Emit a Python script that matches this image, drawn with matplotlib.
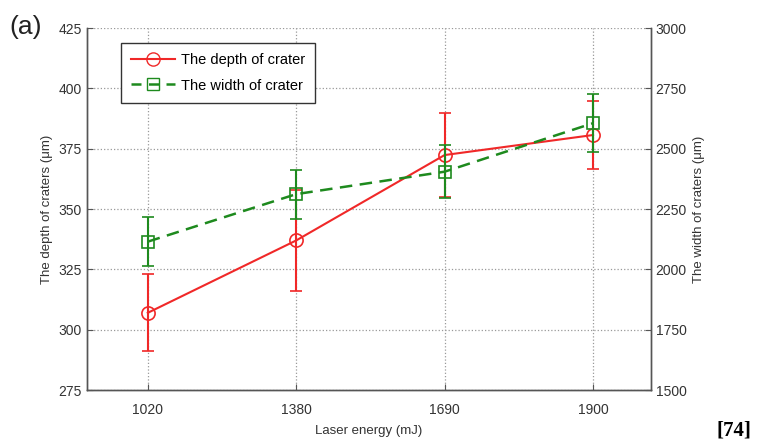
import numpy as np
import matplotlib.pyplot as plt
from matplotlib.lines import Line2D

plt.rcParams['font.family'] = ['Liberation Sans Narrow', 'Liberation Sans', 'DejaVu Sans']

energy = ['1020', '1380', '1690', '1900']
depth = [307, 337, 372.4, 380.7]
depth_err = [16, 21, 17.5, 14.2]
width = [2115, 2312, 2405, 2606]
width_err = [103, 102, 110, 120]

RED = '#f02828'
GREEN = '#1e8a1e'


def main():
    fig = plt.figure(figsize=(7.73, 4.47), dpi=100)
    ax = fig.add_axes([0.1125, 0.1275, 0.7295, 0.8095])
    ax2 = ax.twinx()

    x = np.arange(1, len(energy) + 1)

    ax.errorbar(x, depth, yerr=depth_err, color=RED, marker='o',
                markersize=9.5, markerfacecolor='none', markeredgewidth=1.2,
                linewidth=1.5, capsize=4, elinewidth=1.5, capthick=1.5,
                zorder=3)
    ax2.errorbar(x, width, yerr=width_err, color=GREEN, marker='s',
                 markersize=9, markerfacecolor='none', markeredgewidth=1.2,
                 linewidth=1.8, linestyle='--', dashes=(5, 3), capsize=4,
                 elinewidth=1.5, capthick=1.5, zorder=3)

    ax.set_xlim(0.59, 4.39)
    ax.set_ylim(275, 425)
    ax2.set_ylim(1500, 3000)
    ax.set_xticks(x)
    ax.set_xticklabels(energy)
    ax.set_yticks(np.arange(275, 426, 25))
    ax2.set_yticks(np.arange(1500, 3001, 250))

    ax.grid(True, linestyle=':', color='#999999', linewidth=0.9)
    for a in (ax, ax2):
        a.spines['top'].set_visible(False)
        for s in ('left', 'right', 'bottom'):
            a.spines[s].set_color('#555555')
            a.spines[s].set_linewidth(1.0)
        a.tick_params(direction='in', length=4, labelsize=10,
                      colors='#555555', labelcolor='#333333')
    ax.tick_params(axis='x', pad=9)

    ax.set_xlabel('Laser energy (mJ)', fontsize=9.5, color='#333333',
                  labelpad=6)
    ax.set_ylabel('The depth of craters (\u03bcm)', fontsize=9.5, color='#333333')
    ax2.set_ylabel('The width of craters (\u03bcm)', fontsize=9.5, color='#333333')

    handles = [
        Line2D([], [], color=RED, marker='o', markersize=9.5,
               markerfacecolor='none', linewidth=1.5),
        Line2D([], [], color=GREEN, marker='s', markersize=8,
               markerfacecolor='none', linewidth=1.8, linestyle='--',
               dashes=(4, 3)),
    ]
    leg = ax2.legend(handles, ['The depth of crater', 'The width of crater'],
                     loc='upper left', bbox_to_anchor=(0.047, 0.98),
                     fontsize=10.5, fancybox=False, edgecolor='#333333',
                     framealpha=1, handlelength=3.0, borderpad=0.7,
                     labelspacing=0.8, handletextpad=0.4)
    leg.get_frame().set_linewidth(1.0)

    fig.text(0.012, 0.925, '(a)', fontsize=19, color='#222222')
    fig.text(0.95, 0.025, '[74]', fontsize=15, fontweight='bold',
             family='Liberation Serif', ha='center')

    plt.savefig('out.png', dpi=100)


if __name__ == "__main__":
    main()
